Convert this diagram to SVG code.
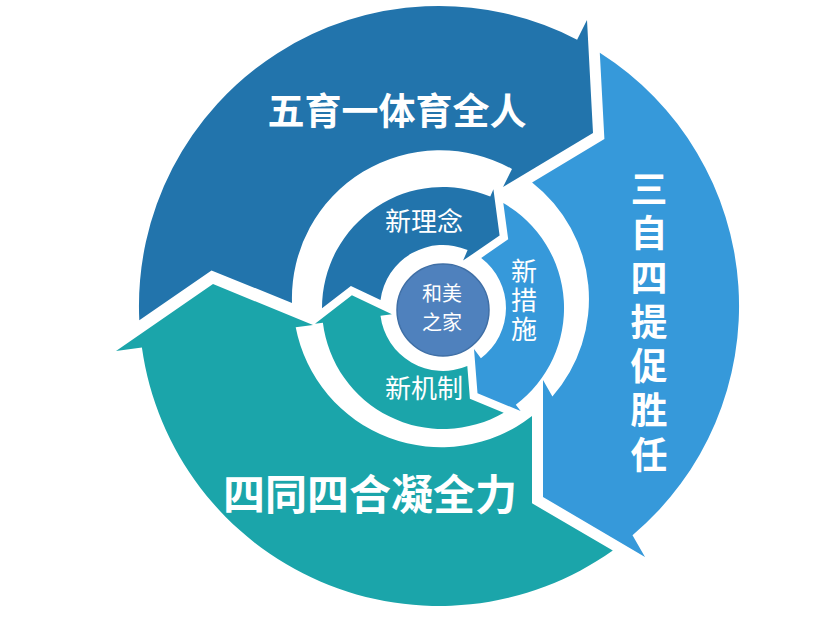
<svg xmlns="http://www.w3.org/2000/svg" width="839" height="618" viewBox="0 0 839 618">
<style>
.dark{fill:#2274AC}
.light{fill:#3699DA}
.teal{fill:#1BA5AA}
.big{font-family:"Noto Sans CJK SC","Noto Sans",sans-serif;font-weight:700;fill:#ffffff}
.small{font-family:"Noto Sans CJK SC","Noto Sans",sans-serif;font-weight:400;fill:#ffffff}
.vert{writing-mode:vertical-rl;text-orientation:upright}
.v37{font-size:37px}
.v26{font-size:26px}
</style>
<rect x="0" y="0" width="839" height="618" fill="#ffffff"/>
<g id="outer-wuyu">
<path class="dark" d="M139.3,320.2 L211.5,270.4 L292,303 A148,148 0 0 1 512,169 L503,187 L593,133 L587,20 L577.1,39.7 A300,300 0 0 0 139.3,320.2 Z"/>
<text class="big" x="397" y="125" font-size="37" text-anchor="middle">五育一体育全人</text>
</g>
<g id="outer-sanzi">
<path class="light" d="M599.8,52.7 A300,300 0 0 1 632.5,535.3 L645,557 L543,497 L543,380 L552.4,396.4 A148,148 0 0 0 532.1,182.4 L604.4,139 Z"/>
<text class="big vert v37" x="649" y="170.5">三</text>
<text class="big vert v37" x="649" y="214.5">自</text>
<text class="big vert v37" x="649" y="259.5">四</text>
<text class="big vert v37" x="649" y="303.5">提</text>
<text class="big vert v37" x="649" y="347.5">促</text>
<text class="big vert v37" x="649" y="391.5">胜</text>
<text class="big vert v37" x="649" y="436">任</text>
</g>
<g id="outer-sitong">
<path class="teal" d="M612.8,550.5 A300,300 0 0 1 141.9,347.6 L116,351 L213,284 L313,325 L295.7,327.3 A148,148 0 0 0 532,416 L532,503.3 Z"/>
<text class="big" x="370" y="510" font-size="42" text-anchor="middle">四同四合凝全力</text>
</g>
<g id="inner-linian">
<path class="dark" d="M322,308.2 A121,121 0 0 1 490.3,196.6 L493.4,189.3 L499.6,235.5 L463.1,260.6 L467.6,250 A63,63 0 0 0 380.5,300 L350.9,285.9 Z"/>
<text class="small" x="424" y="231" font-size="26" text-anchor="middle">新理念</text>
</g>
<g id="inner-cuoshi">
<path class="light" d="M503.3,203.1 A121,121 0 0 1 515.8,404.7 L520.6,411 L477.5,393.3 L474,349.1 L480.9,358.3 A63,63 0 0 0 481.2,257.9 L508.2,239.3 Z"/>
<text class="small vert v26" x="524" y="258.5">新</text>
<text class="small vert v26" x="524" y="287.5">措</text>
<text class="small vert v26" x="524" y="316">施</text>
</g>
<g id="inner-jizhi">
<path class="teal" d="M503.7,412.7 A121,121 0 0 1 322.9,322.7 L315,323.7 L351.9,295.2 L391.9,314.3 L380.5,315.7 A63,63 0 0 0 467.3,366.1 L469.9,398.8 Z"/>
<text class="small" x="424" y="398" font-size="26" text-anchor="middle">新机制</text>
</g>
<g id="center-hemei">
<circle cx="443" cy="310" r="46" fill="#4F81BD" stroke="#3F6FA6" stroke-width="1.5"/>
<text class="small" x="442" y="301" font-size="20" text-anchor="middle">和美</text>
<text class="small" x="442" y="330" font-size="20" text-anchor="middle">之家</text>
</g>
<g id="connectors"></g>
</svg>
